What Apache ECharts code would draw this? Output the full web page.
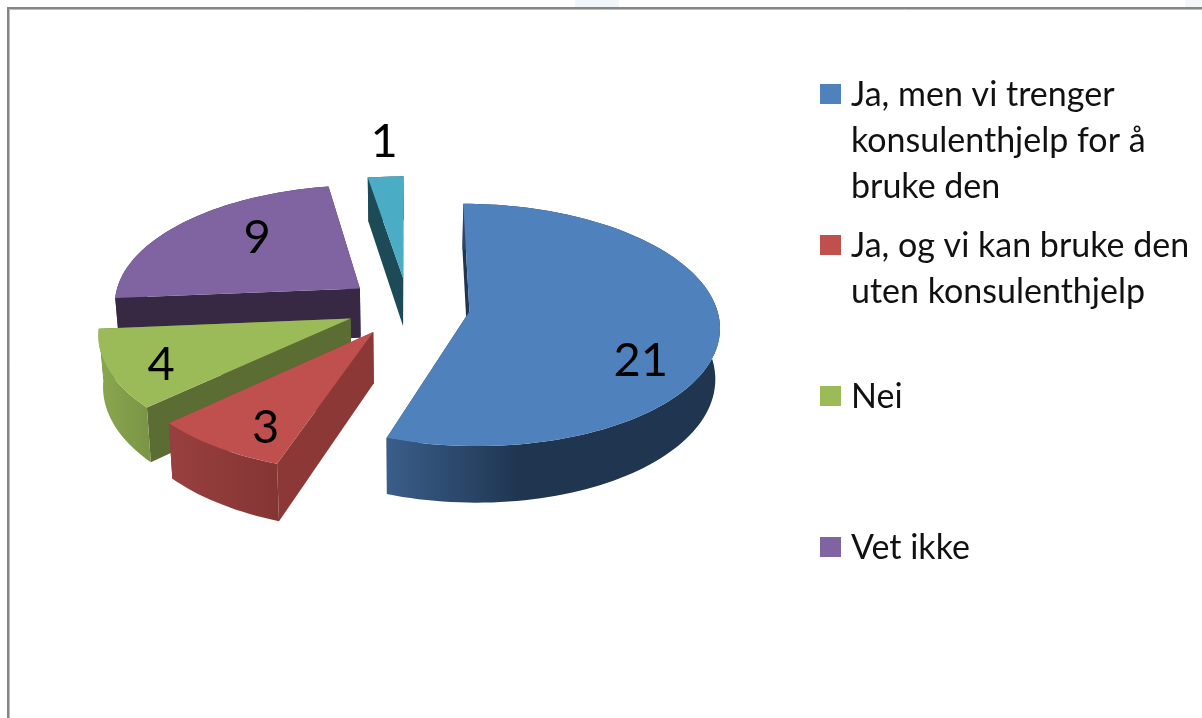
<!DOCTYPE html>
<html><head><meta charset="utf-8">
<style>html,body{margin:0;padding:0;background:#fff}#c{width:1202px;height:718px}</style>
<script src="https://cdn.jsdelivr.net/npm/echarts@6/dist/echarts.min.js"></script>
</head><body><div id="c"></div>
<script>
// data
const categories = ['Ja, men vi trenger\nkonsulenthjelp for å\nbruke den', 'Ja, og vi kan bruke den\nuten konsulenthjelp', 'Nei', 'Vet ikke', ''];
const values = [21, 3, 4, 9, 1];
// styles
const topColors = ['#4f81bd', '#c0504d', '#9bbb59', '#8064a2', '#4bacc6'];
const edgeColors = ['#1f3550', '#8c3836', '#5c6d33', '#372843', '#1d4a57'];
const wallLeft = ['#3a5e8a', '#984040', '#8aa84f', '#372843', '#1d4a57'];
const wallRight = ['#1f3550', '#843533', '#7a9446', '#372843', '#1d4a57'];
const paintRank = [5, 4, 3, 2, 1];
const legendTops = [72, 223, 374, 525];
// layout of the pseudo-3D view
const view = {cx: 408, cy: 306.5, tilt: 0.48, persp: 0.00045, radius: 247, explode: 62, height: 50, lowScale: 0.985};
const labelRadius = [170, 175, 195, 140, 270];
const labelShift = [36, 17, 6, -12, -26];

const total = values.reduce((a, b) => a + b, 0);
const starts = values.map((_, i) => values.slice(0, i).reduce((a, b) => a + b, 0) / total * Math.PI * 2);
function project(X, Y, h) {
  const s = 1 / (1 + view.persp * Y);
  const k = h ? view.lowScale : 1;
  return [view.cx + X * s * k, view.cy - view.tilt * Y * s + (h || 0) * s];
}
function renderSlice(i) {
  const a0 = starts[i], a1 = a0 + values[i] / total * Math.PI * 2, mid = (a0 + a1) / 2;
  const ox = Math.sin(mid) * view.explode, oy = Math.cos(mid) * view.explode;
  const rim = (a, r) => [ox + Math.sin(a) * r, oy + Math.cos(a) * r];
  const n = Math.max(4, Math.round((a1 - a0) / 0.03));
  const topArc = [], lowArc = [];
  for (let k = 0; k <= n; k++) {
    const a = a0 + (a1 - a0) * k / n, p = rim(a, view.radius);
    topArc.push(project(p[0], p[1], 0));
    lowArc.push(project(p[0], p[1], view.height));
  }
  const apexT = project(ox, oy, 0), apexL = project(ox, oy, view.height);
  const poly = (points, fill) => ({type: 'polygon', shape: {points}, style: {fill, stroke: 'none'}, silent: true});
  const wall = poly(topArc.concat(lowArc.slice().reverse()), new echarts.graphic.LinearGradient(0, 0, 1, 0, [
    {offset: 0, color: wallLeft[i]},
    {offset: i === 0 ? 0.4 : 1, color: wallRight[i]},
    {offset: 1, color: wallRight[i]}
  ]));
  const edge0 = poly([apexT, topArc[0], lowArc[0], apexL], edgeColors[i]);
  const edge1 = poly([apexT, topArc[n], lowArc[n], apexL], edgeColors[i]);
  const top = poly([apexT].concat(topArc), topColors[i]);
  const lp = rim(mid, labelRadius[i]);
  const lpos = project(lp[0], lp[1], 0);
  const label = {type: 'text', x: lpos[0], y: lpos[1] + labelShift[i], z2: 10, silent: true,
    style: {text: String(values[i]), fill: '#000', font: '47px Lato, "Open Sans", sans-serif', align: 'center', verticalAlign: 'middle'}};
  return {type: 'group', children: [edge0, edge1, wall, top, label]};
}
const series = values.map((v, i) => ({
  type: 'custom', name: categories[i], coordinateSystem: 'none', silent: true, animation: false,
  z: 2 + paintRank[i], itemStyle: {color: topColors[i]},
  data: [[v]], renderItem: () => renderSlice(i)
}));
const legendIcon = name => {
  const h = 46 * name.split('\n').length;
  return `path://M0 12H21V32H0Z M0 0L0 0 M26 ${h}L26 ${h}`;
};
const legend = legendTops.map((t, i) => ({
  data: [{name: categories[i], icon: legendIcon(categories[i])}],
  left: 820, top: t, orient: 'vertical', padding: 0, selectedMode: false,
  itemWidth: 26, itemHeight: 46 * categories[i].split('\n').length,
  textStyle: {color: '#111', fontFamily: 'Lato, "Open Sans", sans-serif', fontSize: 34, lineHeight: 46, padding: [0, 0, 0, 0]}
}));
const chart = echarts.init(document.getElementById('c'), null, {renderer: 'canvas'});
chart.setOption({
  backgroundColor: '#fff', animation: false, legend, series,
  graphic: [
    {type: 'rect', silent: true, shape: {x: 575, y: 0, width: 44, height: 7}, style: {fill: '#f0f6fa'}},
    {type: 'rect', silent: true, shape: {x: 1185, y: 0, width: 17, height: 7}, style: {fill: '#f2f7fa'}},
    {type: 'rect', silent: true, shape: {x: 9.5, y: 9.5, width: 1300, height: 800}, style: {fill: 'none', stroke: '#bdbdbd', lineWidth: 1}},
    {type: 'rect', silent: true, shape: {x: 8, y: 8, width: 1300, height: 800}, style: {fill: 'none', stroke: '#858585', lineWidth: 2}}
  ]
});
</script></body></html>
